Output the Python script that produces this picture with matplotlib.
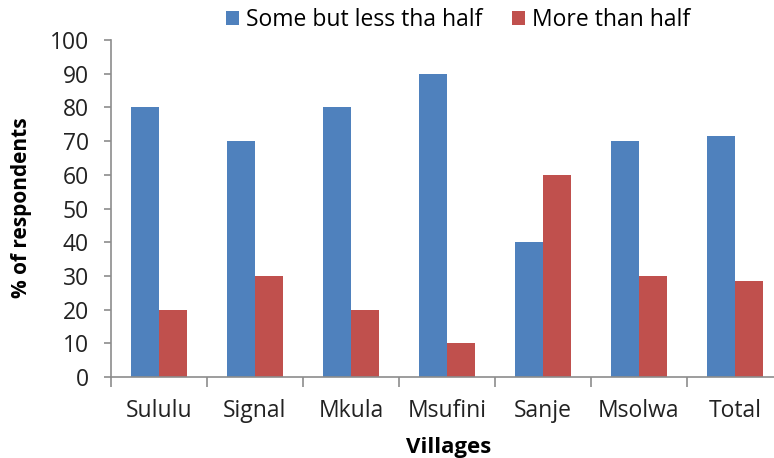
import numpy as np
import matplotlib.pyplot as plt

# --- data
villages = ["Sululu", "Signal", "Mkula", "Msufini", "Sanje", "Msolwa", "Total"]
less_half = [80, 70, 80, 90, 40, 70, 71.4]
more_half = [20, 30, 20, 10, 60, 30, 28.6]
series_names = ["Some but less tha half", "More than half"]

plt.rcParams["font.family"] = ["Open Sans", "DejaVu Sans"]

fig = plt.figure(figsize=(7.74, 4.58), dpi=100)
ax = fig.add_axes([111/774, 1-377/458, 672/774, 337/458])

x = np.arange(len(villages))
w = 0.29
ax.bar(x - w/2, less_half, w, color="#4F81BD", label=series_names[0])
ax.bar(x + w/2, more_half, w, color="#C0504D", label=series_names[1])

ax.set_xlim(-0.5, len(villages) - 0.5)
ax.set_ylim(0, 100)
ax.set_yticks(np.arange(0, 101, 10))
ax.set_xticks(x)
ax.set_xticklabels(villages, fontsize=16.5, color="#222222")
ax.set_xticks(np.arange(-0.5, len(villages), 1), minor=True)
ax.tick_params(axis="x", which="major", length=0, pad=16)
ax.tick_params(axis="x", which="minor", length=7, color="#8c8c8c", width=1.2)
ax.tick_params(axis="y", labelsize=16.5, labelcolor="#222222", length=5,
               color="#8c8c8c", width=1.2, pad=11)

for s in ["top", "right"]:
    ax.spines[s].set_visible(False)
for s in ["left", "bottom"]:
    ax.spines[s].set_color("#8c8c8c")
    ax.spines[s].set_linewidth(1.2)

ax.set_ylabel("% of respondents", fontsize=15, fontweight="bold")
ax.yaxis.set_label_coords(32/774, 1-208/458, transform=fig.transFigure)
fig.text(449/774, 1-448/458, "Villages", fontsize=16, fontweight="bold",
         ha="center", va="center")

ax.legend(loc="center", bbox_to_anchor=(458/774, 1-20/458), bbox_transform=fig.transFigure,
          ncol=2, frameon=False, fontsize=16.5, handlelength=0.55, handleheight=0.55,
          handletextpad=0.3, columnspacing=1.3)

fig.savefig("out.png", dpi=100)
